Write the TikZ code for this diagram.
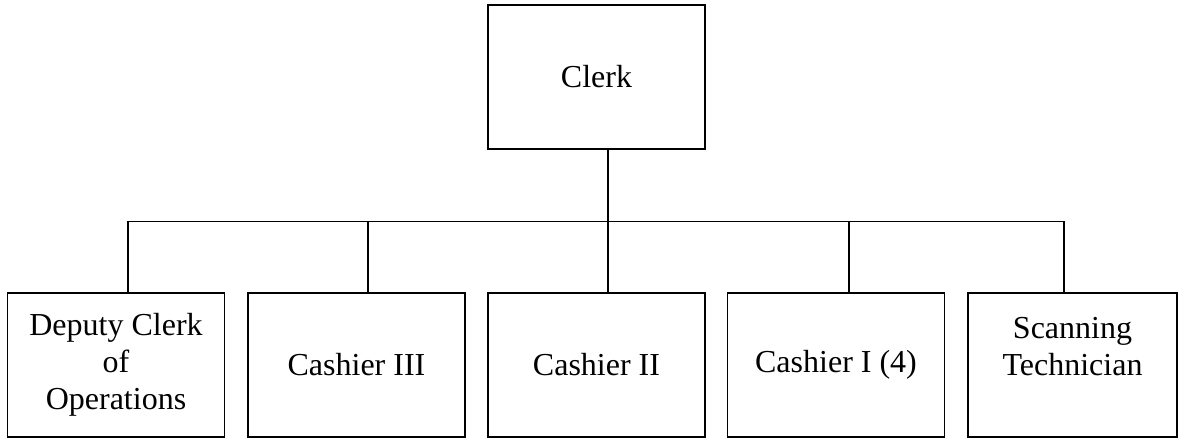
\documentclass[tikz,border=0pt]{standalone}
\usepackage{fontspec}
\setmainfont{Liberation Serif}
\usetikzlibrary{positioning}

\begin{document}
\begin{tikzpicture}[x=1pt,y=-1pt,
    post/.style={draw,line width=1.6pt,minimum width=217pt,minimum height=144pt,
      inner sep=0pt,align=center,font=\fontsize{32}{37}\selectfont},
    wire/.style={line width=1.6pt}]
      \useasboundingbox (0,0) rectangle (1178,438);
      % top box
      \node[post] (clerk) at (596.5,77) {Clerk};
      % bottom row
      \node[post] (deputy) at (116,365) {Deputy Clerk\\of\\Operations};
      \node[post] (cash3) at (356.5,365) {Cashier III};
      \node[post] (cash2) at (596.5,365) {Cashier II};
      \node[post] (cash1) at (836,365) {Cashier I (4)};
      \node[post,minimum width=209pt] (scan) at (1072.5,365) {Scanning\\Technician\\~};
      % bus
      \coordinate (hub) at (608,221.5);
      \coordinate (j1) at (128,221.5);
      \coordinate (j2) at (368,221.5);
      \coordinate (j4) at (849,221.5);
      \coordinate (j5) at (1064,221.5);
      \draw[wire] (clerk.south -| hub) -- (hub);
      \draw[wire] (j1) -- (j5);
      \draw[wire] (j1) -- (j1 |- deputy.north);
      \draw[wire] (j2) -- (j2 |- cash3.north);
      \draw[wire] (hub) -- (hub |- cash2.north);
      \draw[wire] (j4) -- (j4 |- cash1.north);
      \draw[wire] (j5) -- (j5 |- scan.north);
\end{tikzpicture}
\end{document}
